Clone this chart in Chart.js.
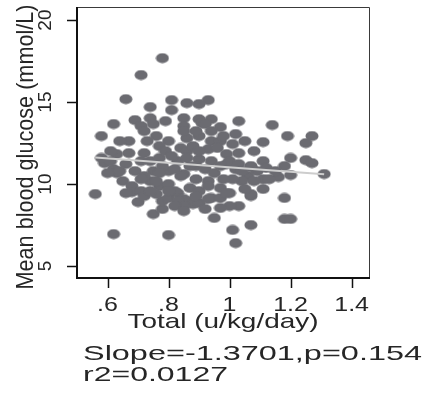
<!DOCTYPE html>
<html>
<head>
<meta charset="utf-8">
<script src="https://cdn.jsdelivr.net/npm/chart.js@4"></script>
<style>
  html, body { margin: 0; padding: 0; background: #fff; }
  canvas { display: block; }
</style>
</head>
<body>
<canvas id="chart" width="428" height="393"></canvas>
<script>
// insulin dose vs mean glucose, one dot per patient
const totalDose = [
  0.78, 0.71, 0.66, 0.74, 0.81, 0.81, 0.86, 0.93, 0.90, 0.62,
  0.69, 0.74, 0.75, 0.71, 0.58, 0.85, 0.85, 0.90, 0.94, 0.91,
  0.97, 1.03, 1.14, 1.02, 1.11, 1.19, 1.27, 1.25, 0.92, 0.86,
  0.90, 0.94, 0.72, 0.76, 0.73, 0.85, 0.84, 0.97, 1.01, 0.63,
  0.67, 0.72, 0.59, 0.62, 0.66, 0.69, 0.74, 0.77, 0.75, 0.80,
  0.83, 0.86, 0.93, 0.96, 0.99, 1.03, 0.90, 0.86, 0.94, 0.99,
  1.02, 1.07, 1.06, 1.09, 1.04, 1.01, 1.20, 1.18, 1.25, 1.27,
  1.07, 1.16, 1.20, 1.31, 1.11, 0.85, 0.89, 0.93, 0.65, 0.68,
  0.74, 0.77, 0.80, 0.84, 0.97, 0.87, 0.90, 1.00, 1.08, 1.13,
  0.56, 0.70, 0.68, 0.71, 0.83, 0.94, 0.85, 0.86, 0.88, 0.90,
  0.93, 0.97, 0.99, 1.07, 1.03, 0.95, 1.01, 1.07, 1.02, 1.18,
  1.18, 1.20, 0.62, 0.80, 0.75, 0.78, 0.78, 0.80, 0.83, 0.85,
  0.76, 1.07, 0.58, 0.61, 0.63, 0.60, 0.89, 0.92, 0.95, 0.98,
  0.88, 0.80, 0.77, 0.82, 0.72, 0.64, 1.00, 1.05, 1.11, 1.15,
  0.79, 0.78, 0.81, 0.71, 0.72, 0.77, 0.82, 0.87, 0.90, 0.94,
  0.98, 1.00, 0.97, 0.93, 0.89, 0.82, 0.80, 0.74, 0.66, 1.03,
  1.11, 1.05, 1.08, 1.12, 0.89, 0.79, 0.67, 0.64, 0.61, 0.85,
  0.92, 0.97, 1.04, 0.76, 0.71,
];
const meanGlucose = [
  17.68, 16.65, 15.18, 14.70, 15.12, 14.51, 14.94, 15.12, 14.88, 13.66,
  13.90, 14.02, 13.66, 13.54, 12.93, 14.02, 13.54, 13.96, 13.96, 13.72,
  13.48, 13.84, 13.60, 13.05, 12.56, 12.93, 12.93, 12.50, 13.66, 12.80,
  12.93, 12.62, 13.23, 12.93, 12.62, 13.23, 12.20, 12.62, 12.44, 11.83,
  11.89, 11.89, 11.28, 10.91, 11.22, 10.79, 11.40, 11.59, 10.79, 10.79,
  11.40, 12.01, 12.13, 12.20, 11.83, 11.89, 11.52, 11.59, 11.40, 11.22,
  10.91, 11.10, 10.49, 10.79, 10.18, 10.30, 11.59, 11.10, 11.46, 11.28,
  11.04, 10.43, 10.55, 10.61, 10.30, 10.61, 10.30, 10.18, 10.18, 9.88,
  10.18, 9.88, 10.00, 10.49, 9.76, 9.76, 9.57, 9.45, 10.18, 10.30,
  9.39, 8.90, 9.51, 9.57, 9.45, 9.15, 9.09, 8.96, 8.78, 8.84,
  9.09, 9.15, 9.45, 9.27, 8.66, 7.93, 7.20, 7.50, 6.40, 9.15,
  7.87, 7.87, 6.95, 6.89, 8.17, 8.48, 8.96, 9.15, 8.96, 8.66,
  9.39, 9.39, 11.59, 11.40, 10.67, 10.67, 11.10, 10.91, 10.67, 10.30,
  12.32, 12.62, 12.32, 9.57, 9.27, 10.79, 8.66, 9.70, 9.70, 10.79,
  12.01, 11.10, 11.71, 11.40, 10.49, 10.67, 10.91, 11.10, 12.01, 13.23,
  12.93, 11.40, 11.10, 9.88, 9.27, 8.66, 9.57, 9.57, 9.45, 11.22,
  11.40, 12.62, 12.01, 10.98, 13.23, 13.84, 12.62, 12.62, 12.01, 8.35,
  8.48, 8.54, 10.79, 10.18, 10.30,
];

// linear fit
const fitSlope = -1.3701;
const fitIntercept = 12.39;
const fitP = 0.154;
const fitR2 = 0.0127;

const xTicks = [0.6, 0.8, 1.0, 1.2, 1.4];
const xTickLabels = [".6", ".8", "1", "1.2", "1.4"];
const yTicks = [5, 10, 15, 20];
const yTickLabels = ["5", "10", "15", "20"];

const xTitle = "Total (u/kg/day)";
const yTitle = "Mean blood glucose (mmol/L)";

const FONT = '"Liberation Sans", Arial, sans-serif';
const INK = "#262626";

const points = totalDose.map((x, i) => ({ x: x, y: meanGlucose[i] }));
const xMin = Math.min(...totalDose);
const xMax = Math.max(...totalDose);
const fitLine = [
  { x: xMin, y: fitIntercept + fitSlope * xMin },
  { x: xMax, y: fitIntercept + fitSlope * xMax },
];

// dots are slightly wider than tall
function makeDot() {
  const c = document.createElement("canvas");
  c.width = 14;
  c.height = 11;
  const g = c.getContext("2d");
  g.fillStyle = "#6b6b71";
  g.beginPath();
  g.ellipse(7, 5.5, 6.5, 5, 0, 0, Math.PI * 2);
  g.fill();
  return c;
}

// draw text squeezed/stretched horizontally
function stretchText(ctx, text, x, y, sx, align) {
  ctx.save();
  ctx.translate(x, y);
  ctx.scale(sx, 1);
  ctx.textAlign = align || "left";
  ctx.fillText(text, 0, 0);
  ctx.restore();
}

const frame = {
  id: "frame",
  afterDraw(chart) {
    const ctx = chart.ctx;
    const a = chart.chartArea;
    const xs = chart.scales.x;
    const ys = chart.scales.y;
    ctx.save();

    // box
    ctx.strokeStyle = "#3a3a3a";
    ctx.lineWidth = 1;
    ctx.beginPath();
    ctx.moveTo(a.left, a.top + 0.5);
    ctx.lineTo(a.right + 0.5, a.top + 0.5);
    ctx.lineTo(a.right + 0.5, a.bottom);
    ctx.stroke();
    ctx.strokeStyle = "#111";
    ctx.lineWidth = 2;
    ctx.beginPath();
    ctx.moveTo(a.left, a.top);
    ctx.lineTo(a.left, a.bottom);
    ctx.lineTo(a.right + 1, a.bottom);
    ctx.stroke();

    // ticks
    ctx.lineWidth = 1.5;
    ctx.beginPath();
    xTicks.forEach((v) => {
      const px = Math.round(xs.getPixelForValue(v)) + 0.5;
      ctx.moveTo(px, a.bottom);
      ctx.lineTo(px, a.bottom + 10);
    });
    yTicks.forEach((v) => {
      const py = Math.round(ys.getPixelForValue(v)) + 0.5;
      ctx.moveTo(a.left - 10, py);
      ctx.lineTo(a.left, py);
    });
    ctx.stroke();

    ctx.fillStyle = INK;
    ctx.textBaseline = "alphabetic";

    // x labels
    ctx.font = "20px " + FONT;
    xTicks.forEach((v, i) => {
      stretchText(ctx, xTickLabels[i], xs.getPixelForValue(v), 311, 1.25, "center");
    });
    ctx.font = "21px " + FONT;
    stretchText(ctx, xTitle, (a.left + a.right) / 2, 328, 1.33, "center");

    // y labels, rotated
    ctx.font = "19px " + FONT;
    yTicks.forEach((v, i) => {
      ctx.save();
      ctx.translate(51, ys.getPixelForValue(v));
      ctx.rotate(-Math.PI / 2);
      ctx.textAlign = "center";
      ctx.fillText(yTickLabels[i], 0, 0);
      ctx.restore();
    });
    ctx.font = "21px " + FONT;
    ctx.save();
    ctx.translate(33, 147);
    ctx.rotate(-Math.PI / 2);
    const w = ctx.measureText(yTitle).width;
    ctx.scale(285 / w, 1.15);
    ctx.textAlign = "center";
    ctx.fillText(yTitle, 0, 0);
    ctx.restore();

    // fit summary
    ctx.font = "21px " + FONT;
    const line1 = "Slope=" + fitSlope.toFixed(4) + ",p=" + fitP;
    const line2 = "r2=" + fitR2;
    stretchText(ctx, line1, 83, 360, 339 / ctx.measureText(line1).width);
    stretchText(ctx, line2, 83, 381, 145 / ctx.measureText(line2).width);

    ctx.restore();
  },
};

const ctx = document.getElementById("chart").getContext("2d");
const myChart = new Chart(ctx, {
  type: "scatter",
  data: {
    datasets: [
      {
        type: "line",
        label: "fit",
        data: fitLine,
        borderColor: "#cdcdcd",
        borderWidth: 2,
        pointRadius: 0,
        fill: false,
        order: 0,
      },
      {
        label: "patients",
        data: points,
        pointStyle: makeDot(),
        pointRadius: 6,
        order: 1,
      },
    ],
  },
  options: {
    responsive: false,
    animation: false,
    layout: { padding: { left: 77, right: 59, top: 6, bottom: 115 } },
    plugins: { legend: { display: false }, tooltip: { enabled: false } },
    scales: {
      x: { type: "linear", display: false, min: 0.5, max: 1.457 },
      y: { type: "linear", display: false, min: 4.27, max: 20.8 },
    },
  },
  plugins: [frame],
});
</script>
</body>
</html>
